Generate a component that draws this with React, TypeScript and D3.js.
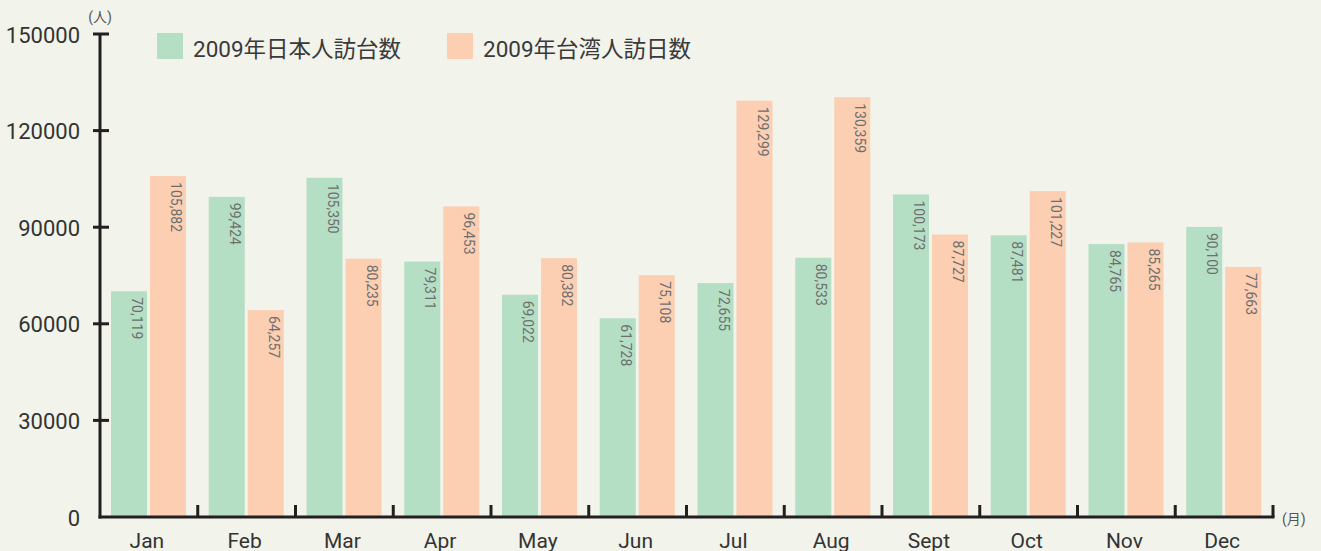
import React, { useEffect, useRef } from "react";
import * as d3 from "d3";

const months = ["Jan", "Feb", "Mar", "Apr", "May", "Jun", "Jul", "Aug", "Sept", "Oct", "Nov", "Dec"];
const seriesNames = ["2009年日本人訪台数", "2009年台湾人訪日数"];
const japanToTaiwan = [70119, 99424, 105350, 79311, 69022, 61728, 72655, 80533, 100173, 87481, 84765, 90100];
const taiwanToJapan = [105882, 64257, 80235, 96453, 80382, 75108, 129299, 130359, 87727, 101227, 85265, 77663];
const yTicks = [0, 30000, 60000, 90000, 120000, 150000];

const colors = ["#b5dfc5", "#fccfb2"];
const W = 1321;
const H = 551;
const font = "Roboto, 'Noto Sans CJK JP', sans-serif";

const App = () => {
  const ref = useRef<SVGSVGElement>(null);

  useEffect(() => {
    const svg = d3.select(ref.current);
    svg.selectAll("*").remove();

    const left = 100;
    const right = 1273;
    const bottom = 517;
    const top = 34;

    const x = d3.scaleBand<string>().domain(months).range([left, right]);
    const xs = d3.scaleBand<number>().domain([0, 1]).range([11, 86]).paddingInner(0.077);
    const y = d3.scaleLinear().domain([0, 150000]).range([bottom, top]);

    svg.append("rect").attr("width", W).attr("height", H).attr("fill", "#f2f3ea");

    const data = [japanToTaiwan, taiwanToJapan];

    // bars + value labels
    data.forEach((vals, si) => {
      const g = svg.append("g");
      vals.forEach((v, i) => {
        const bx = (x(months[i]) as number) + (xs(si) as number);
        g.append("rect")
          .attr("x", bx)
          .attr("y", y(v))
          .attr("width", xs.bandwidth())
          .attr("height", bottom - y(v))
          .attr("fill", colors[si]);
        g.append("text")
          .attr("transform", `translate(${bx + 21},${y(v) + 6}) rotate(90)`)
          .attr("font-family", font)
          .attr("font-size", 14)
          .attr("fill", "#6e6e6e")
          .text(d3.format(",")(v));
      });
    });

    const axisColor = "#231f20";

    // y axis
    svg.append("line")
      .attr("x1", left).attr("x2", left)
      .attr("y1", top).attr("y2", bottom + 1.5)
      .attr("stroke", axisColor).attr("stroke-width", 3);
    yTicks.forEach((t) => {
      if (t > 0) {
        svg.append("line")
          .attr("x1", left - 7).attr("x2", left + 9)
          .attr("y1", y(t)).attr("y2", y(t))
          .attr("stroke", axisColor).attr("stroke-width", 3);
      }
      svg.append("text")
        .attr("x", 80)
        .attr("y", y(t) + 8.5)
        .attr("text-anchor", "end")
        .attr("font-family", font)
        .attr("font-size", 22)
        .attr("fill", "#333")
        .text(t);
    });

    // x axis
    svg.append("line")
      .attr("x1", left - 1.5).attr("x2", right + 1.5)
      .attr("y1", bottom).attr("y2", bottom)
      .attr("stroke", axisColor).attr("stroke-width", 3);
    months.forEach((m) => {
      const bx = (x(m) as number) + x.bandwidth();
      svg.append("line")
        .attr("x1", bx).attr("x2", bx)
        .attr("y1", bottom - 12).attr("y2", bottom)
        .attr("stroke", axisColor).attr("stroke-width", 3);
      svg.append("text")
        .attr("x", (x(m) as number) + x.bandwidth() / 2 - 2)
        .attr("y", 548)
        .attr("text-anchor", "middle")
        .attr("font-family", font)
        .attr("font-size", 21)
        .attr("fill", "#333")
        .text(m);
    });

    // units
    svg.append("text")
      .attr("x", left).attr("y", 22)
      .attr("text-anchor", "middle")
      .attr("font-family", font).attr("font-size", 14).attr("fill", "#555")
      .text("(人)");
    svg.append("text")
      .attr("x", 1282).attr("y", 524)
      .attr("font-family", font).attr("font-size", 14).attr("fill", "#555")
      .text("(月)");

    // legend
    const legendX = [157, 447];
    seriesNames.forEach((name, i) => {
      svg.append("rect")
        .attr("x", legendX[i]).attr("y", 33)
        .attr("width", 26).attr("height", 26)
        .attr("fill", colors[i]);
      svg.append("text")
        .attr("x", legendX[i] + 36).attr("y", 57)
        .attr("font-family", font).attr("font-size", 22.5).attr("fill", "#3a3a3a")
        .text(name);
    });
  }, []);

  return (
    <svg
      ref={ref}
      width={W}
      height={H}
      style={{ position: "absolute", left: 0, top: 0 }}
    />
  );
};

export default App;
